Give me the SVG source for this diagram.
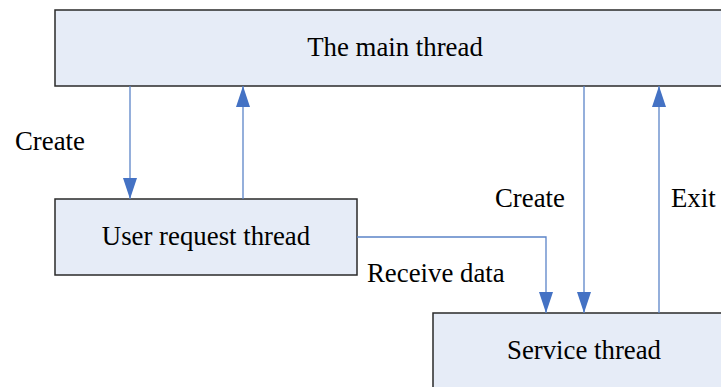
<svg xmlns="http://www.w3.org/2000/svg" width="721" height="387" viewBox="0 0 721 387">
<defs>
<style>
.box{fill:#E6ECF7;stroke:#2a2a2a;stroke-width:1.5}
.t{font-family:"Liberation Serif","Times New Roman",serif;font-size:26.8px;fill:#000}
.c{fill:none;stroke:#5B84C8;stroke-width:1.3}
</style>
<marker id="ah" viewBox="0 0 21 14" refX="21" refY="7" markerWidth="21" markerHeight="14" markerUnits="userSpaceOnUse" orient="auto">
<path d="M0,0 L21,7 L0,14 Z" fill="#4472C4"/>
</marker>
</defs>
<rect width="721" height="387" fill="#fff"/>
<g id="main">
<rect class="box" x="55" y="10" width="680" height="76"/>
<text class="t" x="395" y="56" text-anchor="middle">The main thread</text>
</g>
<g id="user">
<rect class="box" x="55" y="199" width="302" height="76"/>
<text class="t" x="206" y="245" text-anchor="middle">User request thread</text>
</g>
<g id="service">
<rect class="box" x="433" y="313" width="300" height="90"/>
<text class="t" x="584" y="359" text-anchor="middle">Service thread</text>
</g>
<g id="connectors">
<path class="c" d="M130,86 V199" marker-end="url(#ah)"/>
<path class="c" d="M243,199 V86" marker-end="url(#ah)"/>
<path class="c" d="M584,86 V313" marker-end="url(#ah)"/>
<path class="c" d="M659,313 V86" marker-end="url(#ah)"/>
<path class="c" d="M357,237 H546 V313" marker-end="url(#ah)"/>
<text class="t" x="15" y="150">Create</text>
<text class="t" x="495" y="207">Create</text>
<text class="t" x="671" y="207">Exit</text>
<text class="t" x="367" y="282">Receive data</text>
</g>
</svg>
